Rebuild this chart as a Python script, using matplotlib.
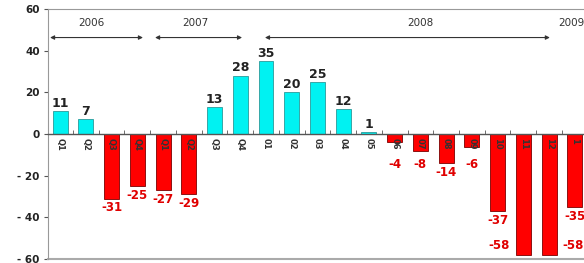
import matplotlib
matplotlib.use("Agg")
import matplotlib.pyplot as plt
import numpy as np

# quarter / month labels and values
labels = ["Q1", "Q2", "Q3", "Q4", "Q1", "Q2", "Q3", "Q4",
          "01", "02", "03", "04", "05", "06", "07", "08", "09",
          "10", "11", "12", "1"]
values = [11, 7, -31, -25, -27, -29, 13, 28,
          35, 20, 25, 12, 1, -4, -8, -14, -6,
          -37, -58, -58, -35]
years = ["2006", "2007", "2008", "2009"]

POS = "#00F2F2"
NEG = "#FF0000"

fig = plt.figure(figsize=(5.84, 2.63), dpi=100)
ax = fig.add_axes([48 / 584, 4 / 263, 550 / 584, 250 / 263])

x = np.arange(len(values))
vals = np.array(values)
colors = [POS if v >= 0 else NEG for v in vals]
edges = ["#2a9a9a" if v >= 0 else "#7a0000" for v in vals]
ax.bar(x, vals, width=0.58, color=colors, edgecolor=edges, linewidth=0.6, zorder=1)

ax.set_xlim(-0.47, 20.9)
ax.set_ylim(-60, 60)

# value labels
n_low = 0
for xi, v in zip(x, vals):
    if v >= 0:
        ax.annotate(str(v), (xi, v), xytext=(0, 1), textcoords="offset points",
                    ha="center", va="bottom", fontsize=9, fontweight="bold",
                    color="#222222")
    elif v < -50:
        # very deep bars: label sits in the neighbouring column
        side = -1 if n_low % 2 == 0 else 1
        n_low += 1
        ax.annotate(str(v), (xi + side * 0.95, v + 4.5), ha="center",
                    va="center", fontsize=8.5, fontweight="bold", color="#E00000")
    else:
        ax.annotate(str(v), (xi, min(v, -10) - 4.5), ha="center", va="center",
                    fontsize=8.5, fontweight="bold", color="#E00000")

# year spans
spans = [(years[0], 1.2, -0.39, 3.22),
         (years[1], 5.25, 3.69, 7.07),
         (years[2], 14.0, 7.96, 19.03)]
for name, xc, x0, x1 in spans:
    ax.text(xc, 53.5, name, ha="center", va="center", fontsize=7.5, color="#333333")
    ax.annotate("", xy=(x0, 46.3), xytext=(x1, 46.3),
                arrowprops=dict(arrowstyle="<|-|>", color="#333333", lw=0.8,
                                mutation_scale=6, shrinkA=0, shrinkB=0))
ax.text(19.34, 53.5, years[3], ha="left", va="center", fontsize=7.5, color="#333333")

# axes styling
ax.spines["bottom"].set_position(("data", 0))
ax.spines["bottom"].set_color("#555555")
ax.spines["bottom"].set_linewidth(1.0)
ax.spines["left"].set_color("#999999")
ax.spines["top"].set_color("#999999")
ax.spines["right"].set_visible(False)
ax.axhline(-60, color="#aaaaaa", lw=1.5, clip_on=False)

ax.set_xticks(x)
ax.set_xticklabels(labels, rotation=270, fontsize=6, fontweight="bold", color="#333333")
ax.tick_params(axis="x", which="major", length=0, pad=3)
ax.set_xticks(x[:-1] + 0.5, minor=True)
ax.tick_params(axis="x", which="minor", length=3, direction="in", color="#555555")

yt = [-60, -40, -20, 0, 20, 40, 60]
ax.set_yticks(yt)
ax.set_yticklabels([str(v).replace("-", "- ") for v in yt], fontsize=7.5,
                   fontweight="bold", color="#222222")
ax.tick_params(axis="y", length=3, color="#555555", pad=3)

fig.savefig("out.png", dpi=100)
